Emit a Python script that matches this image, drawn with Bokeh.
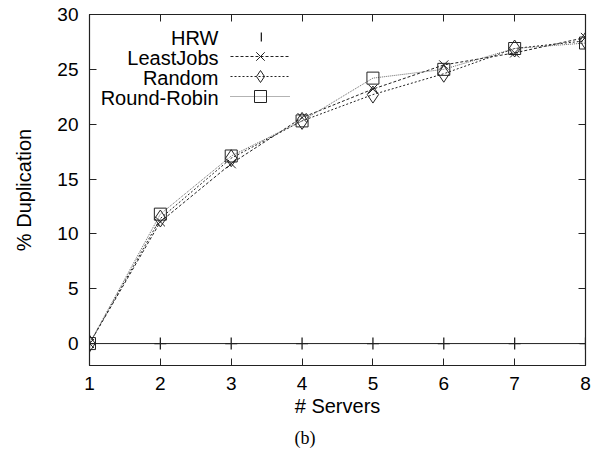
from bokeh.plotting import figure
from bokeh.models import (Range1d, LinearAxis, FixedTicker, Span, Legend, LegendItem, Label,
                          Title)
from bokeh.embed import file_html
from bokeh.resources import INLINE

servers = [1, 2, 3, 4, 5, 6, 7, 8]
hrw = [0, 0, 0, 0, 0, 0, 0, 0]
least_jobs = [0, 11.1, 16.4, 20.6, 23.2, 25.4, 26.5, 27.9]
random_ = [0, 11.4, 16.9, 20.3, 22.7, 24.6, 26.9, 27.6]
round_robin = [0, 11.8, 17.1, 20.3, 24.2, 25.0, 26.9, 27.4]
y_ticks = [0, 5, 10, 15, 20, 25, 30]
x_ticks = [1, 2, 3, 4, 5, 6, 7, 8]
series_names = ["HRW", "LeastJobs", "Random", "Round-Robin"]

FONT = "Liberation Sans"
INK = "#222222"

p = figure(width=600, height=454, output_backend="svg", toolbar_location=None,
           x_range=Range1d(1, 8), y_range=Range1d(-2, 30),
           min_border_left=89, min_border_right=15, min_border_top=14, min_border_bottom=89)
p.background_fill_color = "white"
p.border_fill_color = "white"
p.outline_line_color = INK
p.outline_line_width = 1.2
p.xgrid.visible = False
p.ygrid.visible = False

for ax in (p.xaxis[0], p.yaxis[0]):
    ax.major_tick_in = 7
    ax.major_tick_out = 0
    ax.minor_tick_in = 0
    ax.minor_tick_out = 0
    ax.axis_line_color = INK
    ax.major_tick_line_color = INK
    ax.major_label_text_font = FONT
    ax.major_label_text_font_size = "19px"
    ax.major_label_text_color = "black"
    ax.axis_label_text_font = FONT
    ax.axis_label_text_font_size = "20px"
    ax.axis_label_text_font_style = "normal"
    ax.axis_label_text_color = "black"

p.xaxis[0].ticker = FixedTicker(ticks=x_ticks)
p.yaxis[0].ticker = FixedTicker(ticks=y_ticks)
p.xaxis[0].axis_label = "# Servers"
p.yaxis[0].axis_label = "% Duplication"
p.xaxis[0].major_label_standoff = 11
p.yaxis[0].major_label_standoff = 11
p.xaxis[0].axis_label_standoff = 2
p.yaxis[0].axis_label_standoff = 19

# mirrored inward ticks on top and right (minor ticks only -> no labels)
top = LinearAxis(ticker=FixedTicker(ticks=[], minor_ticks=x_ticks),
                 major_tick_in=0, major_tick_out=0, minor_tick_in=7, minor_tick_out=0,
                 axis_line_color=INK, minor_tick_line_color=INK)
right = LinearAxis(ticker=FixedTicker(ticks=[], minor_ticks=y_ticks),
                   major_tick_in=0, major_tick_out=0, minor_tick_in=7, minor_tick_out=0,
                   axis_line_color=INK, minor_tick_line_color=INK)
p.add_layout(top, "above")
p.add_layout(right, "right")

# zero line
p.add_layout(Span(location=0, dimension="width", line_color=INK, line_width=1))

# HRW points: the horizontal stroke of the cross merges with the zero line,
# leaving a vertical tick at each point
r_hrw = p.scatter(servers, hrw, marker="cross", size=12, line_color=INK, line_width=1.3)
# legend key for HRW: zero-area quads at the HRW points (invisible in the plot),
# whose legend sample is a thin vertical bar
r_hrw_key = p.quad(left=servers, right=servers, bottom=hrw, top=hrw,
                   fill_color=INK, line_color=None)

l_lj = p.line(servers, least_jobs, line_color=INK, line_width=1, line_dash="3 2")
m_lj = p.scatter(servers, least_jobs, marker="x", size=13, line_color=INK, line_width=1)
l_rd = p.line(servers, random_, line_color=INK, line_width=1, line_dash="2 2")
m_rd = p.scatter(servers, random_, marker="diamond", size=17, fill_color=None,
                 line_color=INK, line_width=1)
l_rr = p.line(servers, round_robin, line_color="#666666", line_width=1, line_dash="1 1")
m_rr = p.scatter(servers, round_robin, marker="square", size=12, fill_color=None,
                 line_color=INK, line_width=1)

common = dict(padding=0, margin=0, border_line_color=None, background_fill_alpha=0,
              label_text_font_size="2px", label_standoff=0, label_width=1)

# one key per row (label text is drawn separately, right-aligned, to the left of the key)
keys = [
    Legend(items=[LegendItem(label=" ", renderers=[r_hrw_key])], location=(171, 323),
           glyph_width=2, glyph_height=11, label_height=11, **common),
    Legend(items=[LegendItem(label=" ", renderers=[l_lj, m_lj])], location=(141, 294),
           glyph_width=60, glyph_height=30, label_height=30, **common),
    Legend(items=[LegendItem(label=" ", renderers=[l_rd, m_rd])], location=(141, 274),
           glyph_width=60, glyph_height=30, label_height=30, **common),
    Legend(items=[LegendItem(label=" ", renderers=[l_rr, m_rr])], location=(141, 254),
           glyph_width=60, glyph_height=30, label_height=30, **common),
]
for k in keys:
    p.add_layout(k, "center")

label_rows = [328, 308, 288, 268]
for name, yy in zip(series_names, label_rows):
    p.add_layout(Label(x=129, y=yy, x_units="screen", y_units="screen", text=name,
                       text_align="right", text_baseline="middle", text_font=FONT,
                       text_font_size="20px", text_color="black"))

p.add_layout(Title(text="(b)", align="left", offset=205, text_font="Liberation Serif",
                   text_font_size="18px", text_font_style="normal", text_color="black",
                   standoff=13), "below")

open("out.html", "w").write(file_html(p, INLINE))
